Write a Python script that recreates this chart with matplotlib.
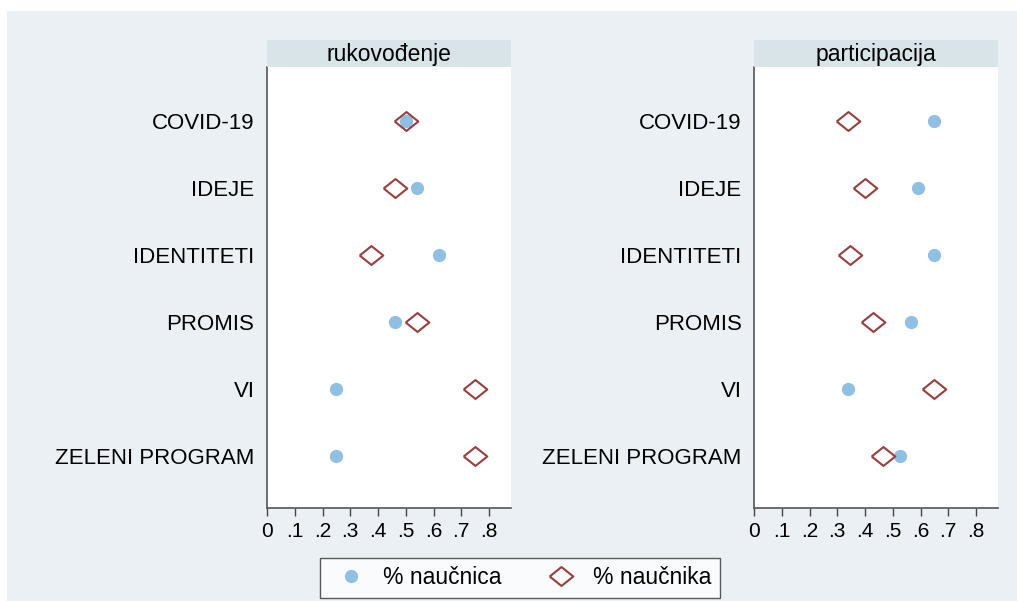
import matplotlib.pyplot as plt
from matplotlib.patches import Rectangle
from matplotlib.lines import Line2D

plt.rcParams['font.family'] = ['Liberation Sans', 'DejaVu Sans']

categories = ['COVID-19', 'IDEJE', 'IDENTITETI', 'PROMIS', 'VI', 'ZELENI PROGRAM']
panels = ['rukovođenje', 'participacija']

# % naučnica (circles) and % naučnika (diamonds) per panel
rukovodjenje_f = [0.50, 0.54, 0.62, 0.46, 0.25, 0.25]
rukovodjenje_m = [0.50, 0.46, 0.375, 0.54, 0.75, 0.75]
participacija_f = [0.65, 0.59, 0.65, 0.565, 0.34, 0.525]
participacija_m = [0.34, 0.40, 0.345, 0.43, 0.65, 0.465]

xticks = [0, 0.1, 0.2, 0.3, 0.4, 0.5, 0.6, 0.7, 0.8]
xticklabels = ['0', '.1', '.2', '.3', '.4', '.5', '.6', '.7', '.8']

bg = '#EAF0F3'
strip_col = '#D9E4E9'
blue = '#8FBFE2'
maroon = '#94403F'
diamond = [(-1, 0), (0, 0.8), (1, 0), (0, -0.8), (-1, 0)]

W, H = 1017, 601
fig = plt.figure(figsize=(W / 100, H / 100), dpi=100)
fig.patch.set_facecolor('white')
fig.patches.append(Rectangle((7 / W, 0), 1, (H - 11) / H, transform=fig.transFigure,
                             facecolor=bg, edgecolor='none', zorder=-10))

data = [(rukovodjenje_f, rukovodjenje_m), (participacija_f, participacija_m)]
lefts = [267, 754]
pw = 244
top, bottom, strip_top = 67, 508, 40

for left, title, (fvals, mvals) in zip(lefts, panels, data):
    ax = fig.add_axes([left / W, 1 - bottom / H, pw / W, (bottom - top) / H])
    ax.set_facecolor('white')
    ypos = list(range(1, len(categories) + 1))
    ax.plot(fvals, ypos, 'o', ms=8.5, color=blue, mec=blue, zorder=3)
    ax.plot(mvals, ypos, ls='none', marker=diamond, ms=17, mfc='none',
            mec=maroon, mew=1.5, zorder=4)
    ax.set_xlim(0, 0.879)
    ax.set_ylim(6.776, 0.194)
    ax.set_yticks(ypos)
    ax.set_yticklabels(categories, fontsize=16)
    ax.tick_params(axis='y', length=0, pad=9)
    ax.set_xticks(xticks)
    ax.set_xticklabels(xticklabels, fontsize=15)
    ax.tick_params(axis='x', length=6, width=1, color='#444444', pad=4)
    for s in ['top', 'right']:
        ax.spines[s].set_visible(False)
    for s in ['left', 'bottom']:
        ax.spines[s].set_color('#555555')
        ax.spines[s].set_linewidth(1.2)

    sax = fig.add_axes([left / W, 1 - top / H, pw / W, (top - strip_top) / H])
    sax.set_facecolor(strip_col)
    sax.set_xticks([])
    sax.set_yticks([])
    for s in sax.spines.values():
        s.set_visible(False)
    sax.text(0.5, 0.45, title, ha='center', va='center', fontsize=16.5,
             transform=sax.transAxes)

handles = [
    Line2D([], [], ls='none', marker='o', ms=8.5, color=blue),
    Line2D([], [], ls='none', marker=diamond, ms=17, mfc='none', mec=maroon, mew=1.5),
]
leg = fig.legend(handles, ['% naučnica', '% naučnika'], loc='center',
                 bbox_to_anchor=(520 / W, 1 - 578 / H), ncol=2, fontsize=16.5,
                 frameon=True, fancybox=False, edgecolor='#333333',
                 handletextpad=0.4, columnspacing=1.6, borderpad=0.35)
leg.get_frame().set_linewidth(1.0)

fig.savefig('out.png', dpi=100)
